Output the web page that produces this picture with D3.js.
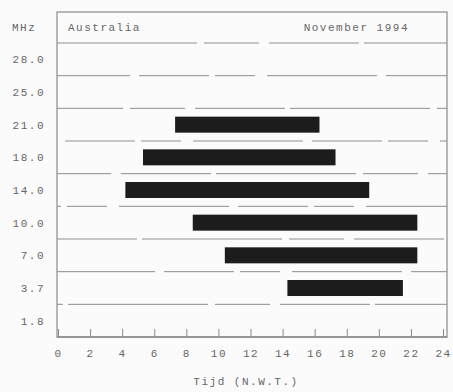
<!DOCTYPE html>
<html>
<head>
<meta charset="utf-8">
<script src="https://cdn.jsdelivr.net/npm/d3@7"></script>
<style>
  body { margin: 0; background: #fbfbfb; }
  svg text { font-family: "Liberation Mono", "DejaVu Sans Mono", monospace; font-size: 11px; fill: #666666; letter-spacing: 1.5px; }
</style>
</head>
<body>
<script>
// banden (MHz) en open uren
var bands = ["28.0", "25.0", "21.0", "18.0", "14.0", "10.0", "7.0", "3.7", "1.8"];
var startHour = [null, null, 7.3, 5.3, 4.2, 8.4, 10.4, 14.3, null];
var endHour   = [null, null, 16.3, 17.3, 19.4, 22.4, 22.4, 21.5, null];
var hourTicks = [0, 2, 4, 6, 8, 10, 12, 14, 16, 18, 20, 22, 24];
var placeName = "Australia";
var period = "November 1994";

var W = 453, H = 392;
var frame = {left: 57, right: 447, top: 12, header: 43, bottom: 337};

var svg = d3.select("body").append("svg")
    .attr("width", W)
    .attr("height", H);

var x = d3.scaleLinear().domain([0, 24]).range([58, 443]);
var y = d3.scaleBand().domain(bands).range([frame.header, frame.bottom]);

// kader
svg.append("rect")
    .attr("x", frame.left).attr("y", frame.top)
    .attr("width", frame.right - frame.left)
    .attr("height", frame.bottom - frame.top)
    .attr("fill", "none").attr("stroke", "#8a8a8a").attr("stroke-width", 1.2);

// scheidingslijnen tussen banden (gescand, dus hier en daar onderbroken)
var lines = [frame.header].concat(bands.slice(1).map(function (b) { return y(b); }));
svg.selectAll("line.grid").data(lines).enter().append("line")
    .attr("class", "grid")
    .attr("x1", frame.left).attr("x2", frame.right)
    .attr("y1", function (d) { return d; })
    .attr("y2", function (d) { return d; })
    .attr("stroke", "#8f8f8f")
    .attr("stroke-width", 1)
    .attr("stroke-dasharray", function (d, i) { return i % 2 ? "110,9,70,6,40,12" : "140,7,55,10,90,5"; })
    .attr("stroke-dashoffset", function (d, i) { return i * 37; });

// koptekst
svg.append("text").attr("x", 12).attr("y", 31).text("MHz");
svg.append("text").attr("x", 68).attr("y", 31).text(placeName);
svg.append("text").attr("x", 409).attr("y", 31).attr("text-anchor", "end").text(period);

// band labels
svg.selectAll("text.band").data(bands).enter().append("text")
    .attr("class", "band")
    .attr("x", 45)
    .attr("y", function (d) { return y(d) + y.bandwidth() / 2 + 4; })
    .attr("text-anchor", "end")
    .text(function (d) { return d; });

// balken
var barH = 16;
var bars = bands.map(function (b, i) { return {band: b, s: startHour[i], e: endHour[i]}; })
    .filter(function (d) { return d.s != null; });
svg.selectAll("rect.bar").data(bars).enter().append("rect")
    .attr("class", "bar")
    .attr("x", function (d) { return x(d.s); })
    .attr("width", function (d) { return x(d.e) - x(d.s); })
    .attr("y", function (d) { return y(d.band) + y.bandwidth() / 2 - barH / 2; })
    .attr("height", barH)
    .attr("fill", "#1c1c1c");

// x-as
var xAxis = d3.axisBottom(x)
    .tickValues(hourTicks)
    .tickSizeInner(-8)
    .tickSizeOuter(0)
    .tickPadding(12);
var g = svg.append("g")
    .attr("transform", "translate(0," + frame.bottom + ")")
    .call(xAxis);
g.attr("font-family", null).attr("font-size", null);
g.select(".domain").attr("stroke", "#8a8a8a").attr("stroke-width", 1.5)
    .attr("d", "M" + frame.left + ",0H" + frame.right);
g.selectAll(".tick line").attr("stroke", "#8a8a8a");
g.selectAll(".tick text").attr("fill", "#666666");

svg.append("text").attr("x", 246).attr("y", 385).attr("text-anchor", "middle").text("Tijd (N.W.T.)");
</script>
</body>
</html>
